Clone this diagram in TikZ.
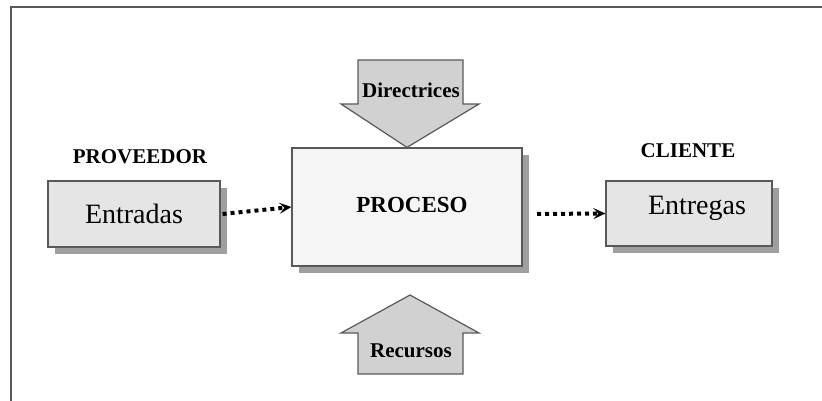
\documentclass[tikz,border=0pt]{standalone}
\usepackage{fontspec}
\setmainfont{Liberation Serif}
\usetikzlibrary{arrows.meta,shadows}
\definecolor{boxfill}{gray}{0.90}
\definecolor{procfill}{gray}{0.96}
\definecolor{arrowfill}{gray}{0.82}
\definecolor{edge}{gray}{0.35}

\begin{document}
\begin{tikzpicture}[x=1pt,y=1pt]
                    \tikzset{box/.style={draw=edge, line width=1.2pt, fill=boxfill, inner sep=0pt,
                        drop shadow={shadow xshift=7pt, shadow yshift=-7pt, fill=gray!75, opacity=1}}}
                    \tikzset{flow/.style={line width=4pt, dash pattern=on 4pt off 4pt, -{Stealth[length=12pt,width=11pt,inset=5pt]}}}
                    \tikzset{bigarrow/.style={draw=edge, line width=1.2pt, fill=arrowfill}}
                    \tikzset{tag/.style={font=\fontsize{21}{23}\selectfont\bfseries}}
                    \useasboundingbox (0,0) rectangle (822,401);
                    \draw[edge, line width=1.5pt] (11,0) -- (11,394) -- (822,394);
                    % boxes
                    \node[box, minimum width=172pt, minimum height=66pt, font=\fontsize{28}{30}\selectfont] (ent) at (134,187) {Entradas};
                    \node[box, fill=procfill, minimum width=230pt, minimum height=118pt] (proc) at (407,194) {};
                    \node[font=\fontsize{23}{25}\selectfont\bfseries] (proclbl) at (412,196) {PROCESO};
                    \node[box, minimum width=166pt, minimum height=65pt] (sal) at (689,187.5) {};
                    \node[font=\fontsize{28}{30}\selectfont] (sallbl) at (697,193) {Entregas};
                    \node[tag] (prov) at (140,244) {PROVEEDOR};
                    \node[tag] (cli) at (688,250) {CLIENTE};
                    % connectors
                    \draw[flow] (ent.east) ++(2pt,0) coordinate (e1) -- (proc.west);
                    \draw[flow] (537,187) coordinate (s1) -- (sal.west);
                    % big arrows
                    \draw[bigarrow] (358,341) -- (463,341) -- (463,297) -- (479,297) -- (proc.north) -- (341,297) -- (358,297) -- cycle;
                    \draw[bigarrow] (358,27) -- (463,27) -- (463,68) -- (479,68) -- (410,106) -- (341,68) -- (358,68) -- cycle;
                    \node[tag] (dir) at (411,311) {Directrices};
                    \node[tag] (rec) at (411,50) {Recursos};
                    \end{tikzpicture}
\end{document}
